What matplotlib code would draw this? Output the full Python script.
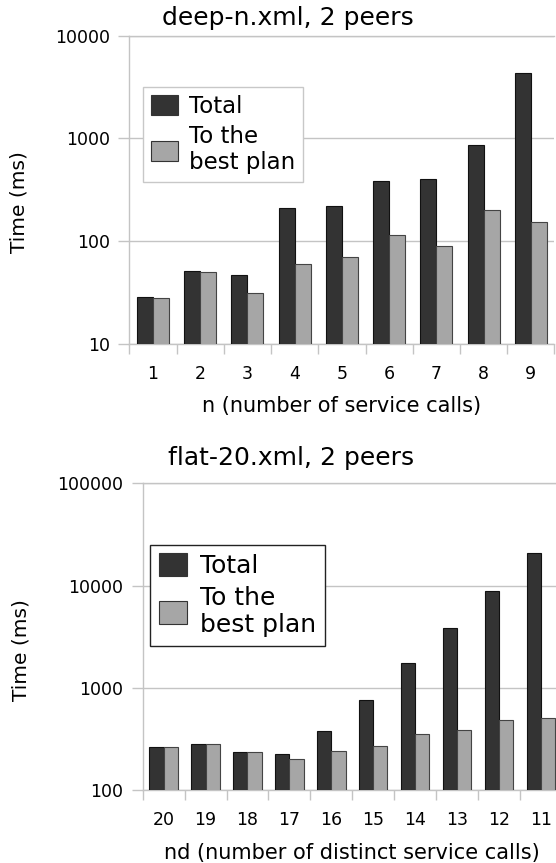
import matplotlib
matplotlib.use('Agg')
import matplotlib.pyplot as plt
import matplotlib.ticker as mticker
import numpy as np

# deep-n.xml, 2 peers
deep_n = ['1', '2', '3', '4', '5', '6', '7', '8', '9']
deep_total = [28.5, 50.7, 46.7, 208, 218, 384, 405, 855, 4300]
deep_best = [28, 50, 31.4, 59.3, 70.4, 114, 88.7, 200, 155]

# flat-20.xml, 2 peers
flat_nd = ['20', '19', '18', '17', '16', '15', '14', '13', '12', '11']
flat_total = [262, 282, 237, 225, 375, 760, 1760, 3850, 8800, 21000]
flat_best = [262, 282, 237, 202, 241, 272, 353, 384, 481, 510]

DARK = '#333333'
LIGHT = '#a6a6a6'
GRID = '#c4c4c4'

plt.rcParams['font.family'] = 'DejaVu Sans'


def draw(ax, cats, total, best, ylim, xlabel, leg_anchor, leg_size, leg_edge):
    x = np.arange(len(cats))
    w = 0.34
    ax.bar(x - w / 2, total, w, color=DARK, edgecolor='#111111', lw=0.8,
           label='Total', zorder=3)
    ax.bar(x + w / 2, best, w, color=LIGHT, edgecolor='#444444', lw=0.8,
           label='To the\nbest plan', zorder=3)

    ax.set_yscale('log')
    ax.set_ylim(ylim)
    ax.set_xlim(-0.5, len(cats) - 0.5)
    ax.yaxis.set_major_formatter(mticker.FuncFormatter(lambda v, p: '%d' % v))
    ax.yaxis.set_minor_locator(mticker.NullLocator())
    ax.grid(axis='y', color=GRID, lw=1.0, zorder=0)

    ax.set_xticks(x)
    ax.set_xticklabels(cats)
    ax.set_xticks(np.arange(len(cats) + 1) - 0.5, minor=True)
    ax.tick_params(axis='x', which='major', length=0, pad=15, labelsize=12.5)
    ax.tick_params(axis='x', which='minor', length=7, width=1, color=GRID,
                   direction='out')
    ax.tick_params(axis='y', which='major', length=8, width=1, color=GRID,
                   pad=6, labelsize=12.5)

    for s in ['left', 'bottom', 'top']:
        ax.spines[s].set_color(GRID)
        ax.spines[s].set_linewidth(1.0)
    ax.spines['right'].set_visible(False)

    ax.set_xlabel(xlabel, fontsize=15, labelpad=10)
    ax.set_ylabel('Time (ms)', fontsize=14.5)

    leg = ax.legend(loc='upper left', bbox_to_anchor=leg_anchor,
                    fontsize=leg_size, frameon=True, fancybox=False,
                    framealpha=1, edgecolor=leg_edge, handlelength=1.15,
                    handleheight=1.0, handletextpad=0.5, labelspacing=0.3,
                    borderpad=0.35, borderaxespad=0)
    leg.get_frame().set_linewidth(1.0)
    for h in leg.legend_handles:
        h.set_edgecolor('#333333')
    return ax


fig = plt.figure(figsize=(5.56, 8.63), dpi=100)

ax1 = fig.add_axes([0.2326, 0.6017, 0.7647, 0.3569])
draw(ax1, deep_n, deep_total, deep_best, (10, 10000),
     'n (number of service calls)', (0.033, 0.834), 16.5, '#c8c8c8')
ax1.yaxis.set_label_coords(-0.238, 0.46)
fig.text(288 / 556, 1 - 18 / 863, 'deep-n.xml, 2 peers', fontsize=18,
         ha='center', va='center')

ax2 = fig.add_axes([0.2567, 0.0846, 0.7536, 0.3554])
draw(ax2, flat_nd, flat_total, flat_best, (100, 100000),
     'nd (number of distinct service calls)', (0.017, 0.80), 18, '#222222')
ax2.yaxis.set_label_coords(-0.268, 0.456)
fig.text(291 / 556, 1 - 458 / 863, 'flat-20.xml, 2 peers', fontsize=18,
         ha='center', va='center')

fig.savefig('out.png', dpi=100)
